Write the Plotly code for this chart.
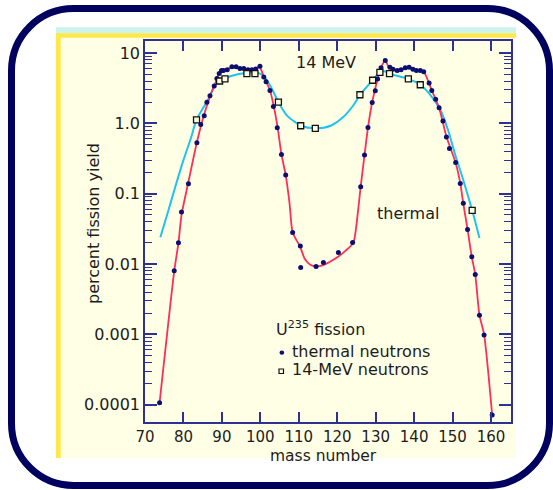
import plotly.graph_objects as go

# ---------------- data ----------------
thermal_A = [73.8, 77.6, 78.7, 79.5, 81.3, 83.5, 84.5, 85.4, 86.1, 86.9, 88.0, 88.7, 89.3, 89.9,
             90.4, 91.4, 92.6, 93.7, 94.7, 95.7, 96.8, 97.8, 98.8, 99.9,
             100.9, 101.5, 102.5, 103.4, 104.4, 105.5, 106.6, 108.4, 110.4, 110.5,
             114.5, 116.4, 120.3, 124.0, 126.1, 127.1, 128.0, 129.1, 129.9, 130.5,
             131.4, 132.5, 133.7, 134.5, 135.6, 136.6, 137.7, 138.7, 139.7, 140.6,
             141.6, 142.5, 143.9, 144.6, 145.6, 146.5, 147.5, 148.4, 149.2, 150.8,
             152.0, 152.8, 153.9, 155.0, 155.9, 157.0, 158.2, 160.3]
thermal_yield = [1.07e-4, 0.008, 0.020, 0.055, 0.138, 0.53, 0.96, 1.28, 2.0, 2.46, 3.4, 4.35, 5.1, 5.66,
                 5.65, 5.78, 6.4, 6.4, 6.04, 6.04, 5.78, 5.78, 5.92, 6.5,
                 4.56, 3.9, 2.94, 1.74, 0.865, 0.36, 0.184, 0.028, 0.018, 0.0089,
                 0.0092, 0.0105, 0.0146, 0.0202, 0.126, 0.356, 0.87, 1.98, 2.9, 4.26,
                 6.2, 7.85, 6.3, 5.9, 5.65, 5.78, 6.17, 6.3, 5.9, 5.65,
                 5.65, 5.42, 3.74, 2.94, 2.2, 1.67, 1.08, 0.64, 0.44, 0.278,
                 0.14, 0.073, 0.031, 0.0127, 0.0071, 0.00187, 0.00098, 7.16e-5]

mev14_A = [83.4, 89.4, 90.8, 96.5, 98.6, 104.7, 110.5, 114.3, 125.9, 129.2, 131.1, 133.6, 138.5, 141.6, 155.1]
mev14_yield = [1.12, 4.0, 4.3, 5.08, 5.08, 2.0, 0.925, 0.85, 2.55, 4.1, 5.3, 5.08, 4.3, 3.54, 0.058]

thermal_curve_A = [73.8, 77.6, 78.7, 79.5, 81.3, 83.5, 85.4, 87.0, 88.5, 89.6, 90.5, 92.5, 94.5, 96.5,
                   98.5, 99.8, 100.9, 102.5, 103.5, 104.5, 105.5, 106.6, 107.6, 108.4, 110.4, 111.5,
                   113.0, 114.5, 116.0, 118.0, 120.4, 122.2, 124.2, 125.3, 126.1, 127.1, 128.0, 129.1,
                   130.5, 131.4, 132.5, 133.4, 134.5, 136.5, 138.5, 140.5, 142.4, 143.5, 144.6, 146.5,
                   148.4, 150.8, 152.0, 152.8, 153.9, 155.0, 155.9, 157.0, 158.2, 160.3]
thermal_curve_yield = [1.07e-4, 0.0079, 0.020, 0.050, 0.148, 0.54, 1.35, 2.5, 4.0, 5.6, 5.75, 6.2, 6.2, 5.9,
                       5.9, 6.3, 4.6, 2.95, 1.74, 0.87, 0.36, 0.184, 0.073, 0.028, 0.0174, 0.012,
                       0.0098, 0.0093, 0.0095, 0.0107, 0.0129, 0.0155, 0.020, 0.050, 0.126, 0.355, 0.87, 2.0,
                       4.27, 6.2, 7.85, 6.3, 5.9, 5.75, 6.2, 5.6, 5.5, 4.2, 2.95, 1.66,
                       0.65, 0.275, 0.141, 0.072, 0.031, 0.0126, 0.0071, 0.00186, 0.001, 7.2e-5]

mev14_curve_A = [74.0, 76.0, 78.0, 80.0, 82.0, 83.4, 86.1, 88.8, 91.0, 93.6, 96.2, 98.8, 100.5, 102.7,
                 104.7, 107.0, 109.2, 110.5, 114.3, 118.3, 121.7, 124.3, 125.9, 127.8, 129.2, 131.1,
                 132.5, 133.6, 136.0, 138.5, 141.6, 144.2, 146.8, 148.8, 150.8, 152.5, 155.1, 157.0]
mev14_curve_yield = [0.024, 0.056, 0.132, 0.30, 0.63, 1.12, 2.04, 3.8, 4.4, 4.9, 5.2, 5.3, 4.9, 3.35,
                     2.0, 1.28, 1.03, 0.925, 0.85, 0.925, 1.25, 1.84, 2.55, 3.35, 4.13, 5.3,
                     5.47, 5.08, 4.68, 4.3, 3.54, 2.55, 1.56, 0.81, 0.34, 0.176, 0.058, 0.0234]

x_tick_vals = [70, 80, 90, 100, 110, 120, 130, 140, 150, 160]
y_tick_vals = [10, 1, 0.1, 0.01, 0.001, 0.0001]
y_tick_text = ["10", "1.0", "0.1", "0.01", "0.001", "0.0001"]
y_minor_vals = [m * d for d in [0.0001, 0.001, 0.01, 0.1, 1] for m in range(2, 10)]

# ---------------- styling ----------------
W, H = 553, 490
ML, MR, MT, MB = 145, 42, 41, 68
PW, PH = W - ML - MR, H - MT - MB
NAVY = "#2E3192"
FONT = "DejaVu Sans"
TXT = "#1c1c1c"


def X(px):
    return (px - ML) / PW


def Y(py):
    return (H - MB - py) / PH


fig = go.Figure()
fig.add_trace(go.Scatter(x=mev14_curve_A, y=mev14_curve_yield, mode="lines",
                         line=dict(color="#1EC3EE", width=2, shape="spline", smoothing=0.8),
                         showlegend=False, hoverinfo="skip"))
fig.add_trace(go.Scatter(x=thermal_curve_A, y=thermal_curve_yield, mode="lines",
                         line=dict(color="#FF2D5A", width=1.8, shape="spline", smoothing=0.6),
                         showlegend=False, hoverinfo="skip"))
fig.add_trace(go.Scatter(x=thermal_A, y=thermal_yield, mode="markers", name="thermal neutrons",
                         marker=dict(symbol="circle", size=5, color="#0B1070", line=dict(width=0)),
                         showlegend=False))
fig.add_trace(go.Scatter(x=mev14_A, y=mev14_yield, mode="markers", name="14-MeV neutrons",
                         marker=dict(symbol="square", size=6, color="#FFFFE6",
                                     line=dict(color="#111111", width=1.3)),
                         showlegend=False))

# ---------------- decorative frame ----------------
L, R, T, B, r = 11.5, 549.5, 8.5, 485.5, 62
k = 0.5523 * r


def P(px, py):
    return f"{X(px):.5f},{Y(py):.5f}"


frame_path = (f"M {P(L + r, T)} L {P(R - r, T)} C {P(R - r + k, T)} {P(R, T + r - k)} {P(R, T + r)} "
              f"L {P(R, B - r)} C {P(R, B - r + k)} {P(R - r + k, B)} {P(R - r, B)} "
              f"L {P(L + r, B)} C {P(L + r - k, B)} {P(L, B - r + k)} {P(L, B - r)} "
              f"L {P(L, T + r)} C {P(L, T + r - k)} {P(L + r - k, T)} {P(L + r, T)} Z")

shapes = [
    dict(type="rect", xref="paper", yref="paper", x0=X(56), x1=X(516), y0=Y(458), y1=Y(27),
         fillcolor="#FFFFE6", line=dict(width=0), layer="below"),
    dict(type="rect", xref="paper", yref="paper", x0=X(56), x1=X(516), y0=Y(33.3), y1=Y(27.3),
         fillcolor="#CCF4EC", line=dict(width=0), layer="below"),
    dict(type="rect", xref="paper", yref="paper", x0=X(56), x1=X(516), y0=Y(37.7), y1=Y(33.3),
         fillcolor="#FFE94A", line=dict(width=0), layer="below"),
    dict(type="rect", xref="paper", yref="paper", x0=X(56), x1=X(60.7), y0=Y(458), y1=Y(33.3),
         fillcolor="#FFE94A", line=dict(width=0), layer="below"),
    dict(type="path", xref="paper", yref="paper", path=frame_path,
         line=dict(color="#00005F", width=7), layer="below"),
    # legend keys
    dict(type="circle", xref="paper", yref="paper", x0=X(279.5), x1=X(284.2), y0=Y(354.8), y1=Y(350.5),
         fillcolor="#0B1070", line=dict(width=0)),
    dict(type="rect", xref="paper", yref="paper", x0=X(279), x1=X(283.5), y0=Y(373.5), y1=Y(369),
         fillcolor="#FFFFE6", line=dict(color="#111111", width=1.2)),
]

annotations = [
    dict(text="14 MeV", x=X(326), y=Y(63)),
    dict(text="thermal", x=X(408), y=Y(213)),
    dict(text="mass number", x=X(323), y=Y(455.5), size=15.5),
    dict(text="percent fission yield", x=X(93), y=Y(224), textangle=-90),
    dict(text="U<sup>235</sup> fission", x=X(275), y=Y(328), xanchor="left"),
    dict(text="thermal neutrons", x=X(291), y=Y(351), xanchor="left"),
    dict(text="14-MeV neutrons", x=X(291), y=Y(369), xanchor="left"),
]
for a in annotations:
    sz = a.pop("size", 16)
    a.update(xref="paper", yref="paper", showarrow=False, borderpad=0,
             font=dict(family=FONT, size=sz, color=TXT))
    a.setdefault("xanchor", "center")
    a.setdefault("yanchor", "middle")

fig.update_layout(
    width=W, height=H,
    margin=dict(l=ML, r=MR, t=MT, b=MB, pad=0),
    paper_bgcolor="white",
    plot_bgcolor="rgba(0,0,0,0)",
    shapes=shapes,
    annotations=annotations,
    showlegend=False,
    xaxis=dict(range=[70, 165.2], tickmode="array", tickvals=x_tick_vals,
               ticks="inside", ticklen=10, tickwidth=1.5, tickcolor=NAVY,
               showline=True, linecolor=NAVY, linewidth=1.5, mirror="ticks",
               showgrid=False, zeroline=False,
               tickfont=dict(family=FONT, size=15, color=TXT)),
    yaxis=dict(type="log", range=[-4.246, 1.171], tickmode="array",
               tickvals=y_tick_vals, ticktext=y_tick_text,
               ticks="inside", ticklen=12, tickwidth=1.5, tickcolor=NAVY,
               showline=True, linecolor=NAVY, linewidth=1.5, mirror="ticks",
               showgrid=False, zeroline=False,
               minor=dict(tickmode="array", tickvals=y_minor_vals, ticks="inside",
                          ticklen=7, tickwidth=1.3, tickcolor=NAVY, showgrid=False),
               tickfont=dict(family=FONT, size=16, color=TXT)),
)

fig.write_html("out.html", config={"displayModeBar": False},
               post_script="document.body.style.margin='0';document.body.style.overflow='hidden';")
